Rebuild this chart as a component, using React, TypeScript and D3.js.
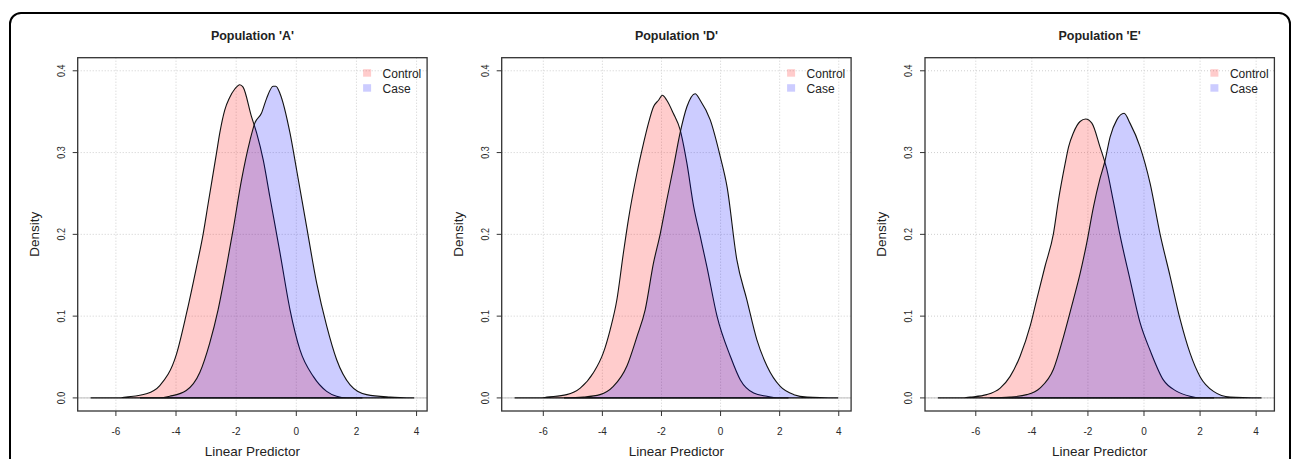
import * as d3 from 'd3'

const FONT = '"Liberation Sans", Arial, Helvetica, sans-serif'
const WIDTH = 1292
const HEIGHT = 459

// panel frames (R plot regions)
const PANEL_LEFTS = [77.7, 501.7, 925]
const PANEL_W = 349.4
const PANEL_TOP = 57.7
const PANEL_BOTTOM = 411

const titles = ["Population 'A'", "Population 'D'", "Population 'E'"]
const xLimits: [number, number][] = [[-6.84, 3.92], [-6.97, 3.98], [-7.35, 4.19]]
const yLimit: [number, number] = [0, 0.4]
const xTicks = [-6, -4, -2, 0, 2, 4]
const yTicks = [0, 0.1, 0.2, 0.3, 0.4]
const legendLabels = ['Control', 'Case']

// density estimates: [linear predictor, density]
const controlA: [number, number][] = [
  [-6.84, 0], [-5.9, 0], [-5.66, 0.001], [-4.99, 0.005], [-4.54, 0.015], [-3.99, 0.053],
  [-3.66, 0.102], [-3.32, 0.16], [-3.1, 0.2], [-2.93, 0.238], [-2.66, 0.298],
  [-2.54, 0.325], [-2.38, 0.352], [-2.22, 0.367], [-2.04, 0.378], [-1.88, 0.383],
  [-1.77, 0.38], [-1.49, 0.344], [-1.32, 0.324], [-1.1, 0.291], [-0.88, 0.246],
  [-0.54, 0.177], [-0.21, 0.108], [0.12, 0.059], [0.57, 0.026], [1.01, 0.008],
  [1.34, 0.002], [1.68, 0], [2.2, 0]
]
const caseA: [number, number][] = [
  [-5.2, 0], [-4.54, 0], [-4.21, 0.002], [-3.66, 0.009], [-3.21, 0.031], [-2.88, 0.067],
  [-2.6, 0.108], [-2.32, 0.161], [-2.1, 0.206], [-1.82, 0.267], [-1.54, 0.315],
  [-1.38, 0.336], [-1.16, 0.348], [-0.99, 0.366], [-0.77, 0.381], [-0.68, 0.381],
  [-0.54, 0.372], [-0.21, 0.324], [0.01, 0.279], [0.34, 0.21], [0.68, 0.14],
  [1.01, 0.088], [1.34, 0.047], [1.79, 0.016], [2.34, 0.004], [3.12, 0.001], [3.92, 0]
]
const controlD: [number, number][] = [
  [-6.97, 0], [-6.1, 0], [-5.88, 0.001], [-5.21, 0.004], [-4.75, 0.012], [-4.3, 0.031],
  [-3.97, 0.055], [-3.74, 0.083], [-3.51, 0.12], [-3.29, 0.177], [-3.12, 0.218],
  [-2.83, 0.275], [-2.61, 0.311], [-2.44, 0.336], [-2.27, 0.356], [-2.1, 0.364],
  [-1.97, 0.37], [-1.82, 0.364], [-1.6, 0.348], [-1.37, 0.328], [-1.14, 0.287],
  [-0.91, 0.234], [-0.69, 0.198], [-0.46, 0.16], [-0.12, 0.1], [0.33, 0.051],
  [0.67, 0.022], [1.12, 0.006], [1.57, 0.002], [1.9, 0], [2.3, 0]
]
const caseD: [number, number][] = [
  [-5.3, 0], [-4.64, 0.001], [-4.08, 0.004], [-3.63, 0.014], [-3.17, 0.039], [-2.83, 0.075],
  [-2.55, 0.108], [-2.27, 0.165], [-2.04, 0.201], [-1.82, 0.242], [-1.59, 0.283],
  [-1.37, 0.324], [-1.14, 0.356], [-0.86, 0.372], [-0.69, 0.364], [-0.35, 0.34],
  [-0.01, 0.295], [0.22, 0.258], [0.55, 0.169], [0.89, 0.12], [1.23, 0.071],
  [1.57, 0.039], [2.02, 0.014], [2.48, 0.004], [2.93, 0.001], [3.98, 0]
]
const controlE: [number, number][] = [
  [-7.35, 0], [-6.5, 0], [-6.2, 0.001], [-5.61, 0.004], [-5.13, 0.012], [-4.78, 0.026],
  [-4.42, 0.051], [-4.06, 0.088], [-3.83, 0.12], [-3.53, 0.161], [-3.23, 0.201],
  [-3.05, 0.242], [-2.81, 0.287], [-2.69, 0.307], [-2.52, 0.324], [-2.28, 0.338],
  [-2.08, 0.341], [-1.86, 0.336], [-1.57, 0.307], [-1.33, 0.28], [-1.09, 0.24],
  [-0.85, 0.198], [-0.5, 0.145], [-0.14, 0.092], [0.22, 0.058], [0.69, 0.022],
  [1.17, 0.008], [1.64, 0.002], [2.0, 0], [2.5, 0]
]
const caseE: [number, number][] = [
  [-5.5, 0], [-4.78, 0.001], [-4.18, 0.004], [-3.71, 0.012], [-3.23, 0.035], [-2.87, 0.075],
  [-2.52, 0.12], [-2.28, 0.152], [-2.04, 0.19], [-1.8, 0.234], [-1.57, 0.268],
  [-1.39, 0.29], [-1.21, 0.319], [-0.97, 0.34], [-0.71, 0.348], [-0.5, 0.336],
  [-0.14, 0.307], [0.22, 0.262], [0.57, 0.201], [0.93, 0.149], [1.29, 0.096],
  [1.64, 0.055], [2.0, 0.026], [2.48, 0.008], [3.07, 0.001], [4.19, 0]
]

const controls = [controlA, controlD, controlE]
const cases = [caseA, caseD, caseE]

const CONTROL_FILL = 'rgba(255,0,0,0.2)'
const CASE_FILL = 'rgba(0,0,255,0.2)'

function Panel({ index }: { index: number }) {
  const left = PANEL_LEFTS[index]
  const right = left + PANEL_W
  const [x0, x1] = xLimits[index]
  const xPad = (x1 - x0) * 0.04
  const yPad = (yLimit[1] - yLimit[0]) * 0.04

  const x = d3.scaleLinear().domain([x0 - xPad, x1 + xPad]).range([left, right])
  const y = d3.scaleLinear().domain([yLimit[0] - yPad, yLimit[1] + yPad]).range([PANEL_BOTTOM, PANEL_TOP])

  const line = d3.line<[number, number]>()
    .x(d => x(d[0]))
    .y(d => y(d[1]))
    .curve(d3.curveMonotoneX)

  const cx = (left + right) / 2
  const cy = (PANEL_TOP + PANEL_BOTTOM) / 2

  return (
    <g>
      {/* grid */}
      {xTicks.map(t => (
        <line key={`gx${t}`} x1={x(t)} x2={x(t)} y1={PANEL_TOP} y2={PANEL_BOTTOM}
          stroke="#cfcfcf" strokeWidth={1} strokeDasharray="1 2" />
      ))}
      {yTicks.map(t => (
        <line key={`gy${t}`} x1={left} x2={right} y1={y(t)} y2={y(t)}
          stroke="#cfcfcf" strokeWidth={1} strokeDasharray="1 2" />
      ))}
      <line x1={left} x2={right} y1={y(0)} y2={y(0)} stroke="#bebebe" strokeWidth={1} />

      {/* densities */}
      <path d={line(controls[index]) + 'Z'} fill={CONTROL_FILL} stroke="#111" strokeWidth={1.1} />
      <path d={line(cases[index]) + 'Z'} fill={CASE_FILL} stroke="#111" strokeWidth={1.1} />

      {/* frame */}
      <rect x={left} y={PANEL_TOP} width={PANEL_W} height={PANEL_BOTTOM - PANEL_TOP}
        fill="none" stroke="#333" strokeWidth={1.3} />

      {/* x axis */}
      {xTicks.map(t => (
        <g key={`xt${t}`}>
          <line x1={x(t)} x2={x(t)} y1={PANEL_BOTTOM} y2={PANEL_BOTTOM + 5} stroke="#333" />
          <text x={x(t)} y={434.5} textAnchor="middle" fontSize={10} fill="#2a2a2a"
            fontFamily={FONT}>{t}</text>
        </g>
      ))}
      {/* y axis */}
      {yTicks.map(t => (
        <g key={`yt${t}`}>
          <line x1={left - 5} x2={left} y1={y(t)} y2={y(t)} stroke="#333" />
          <text transform={`translate(${left - 12.7},${y(t)}) rotate(-90) scale(1,1.3)`} textAnchor="middle"
            fontSize={9} fill="#2a2a2a" fontFamily={FONT}>{t.toFixed(1)}</text>
        </g>
      ))}

      {/* titles */}
      <text x={cx} y={39.5} textAnchor="middle" fontSize={12.5} fontWeight="bold"
        fill="#222" fontFamily={FONT}>{titles[index]}</text>
      <text x={cx} y={456} textAnchor="middle" fontSize={13.5} fill="#222"
        fontFamily={FONT}>Linear Predictor</text>
      <text transform={`translate(${left - 39},${cy}) rotate(-90)`} textAnchor="middle"
        fontSize={13.5} fill="#222" fontFamily={FONT}>Density</text>

      {/* legend */}
      {legendLabels.map((lab, i) => (
        <g key={lab}>
          <rect x={right - 64} y={PANEL_TOP + 11.5 + i * 15} width={8} height={7.5}
            fill={i === 0 ? CONTROL_FILL : CASE_FILL} />
          <text x={right - 44.5} y={PANEL_TOP + 15.6 + i * 15} dy="0.36em" fontSize={12}
            fill="#222" fontFamily={FONT}>{lab}</text>
        </g>
      ))}
    </g>
  )
}

export default function App() {
  return (
    <svg width={WIDTH} height={HEIGHT} style={{ position: 'absolute', left: 0, top: 0, background: '#fff' }}>
      <rect x={0} y={0} width={WIDTH} height={HEIGHT} fill="#fff" />
      <rect x={10} y={13} width={1280} height={470} rx={11} fill="none" stroke="#000" strokeWidth={2} />
      {titles.map((_, i) => <Panel key={i} index={i} />)}
    </svg>
  )
}
